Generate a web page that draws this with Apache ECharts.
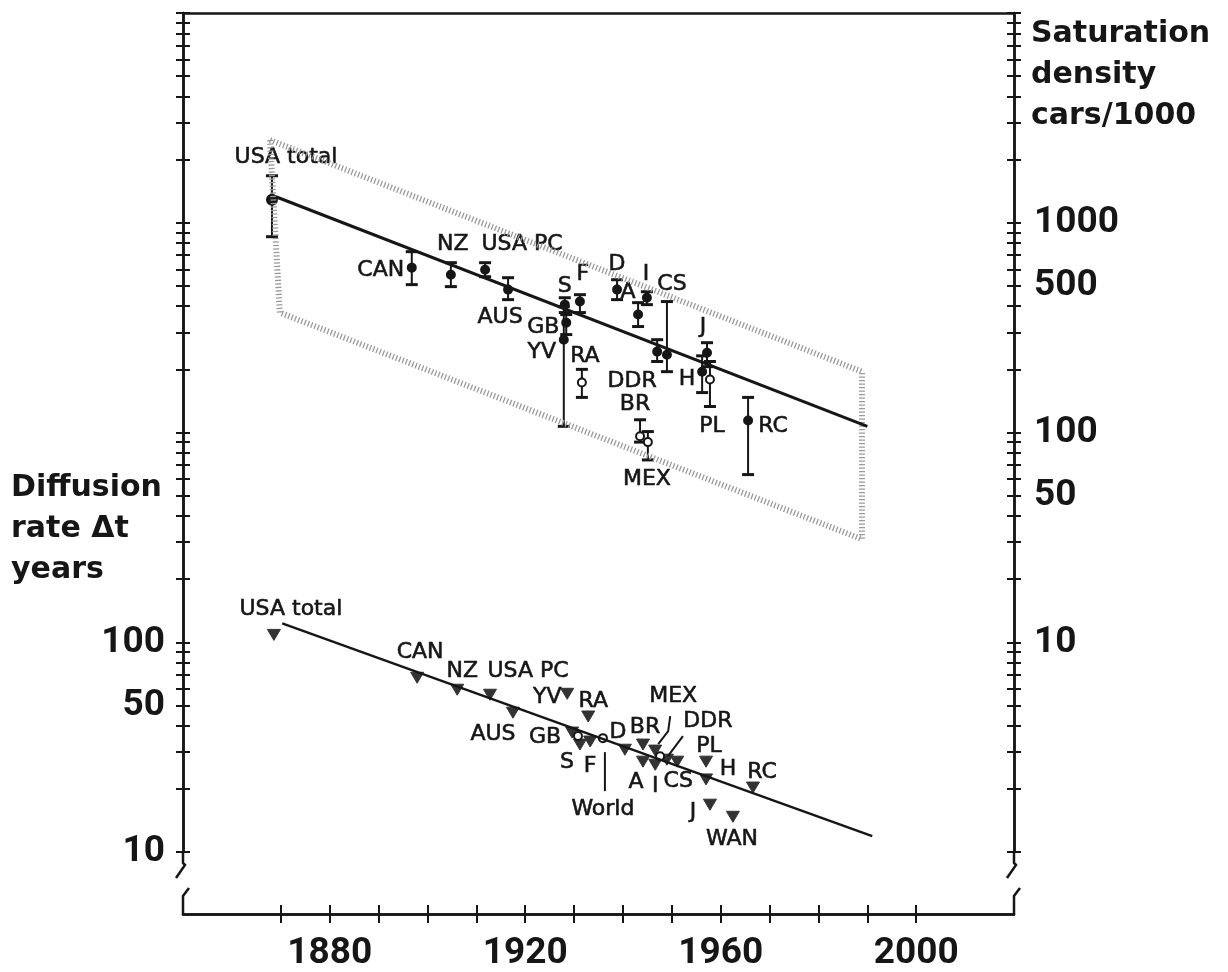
<!DOCTYPE html>
<html>
<head>
<meta charset="UTF-8">
<title>Saturation density and diffusion rate of cars</title>
<style>
  html, body { margin: 0; padding: 0; background: #fff; }
  #chart { width: 1228px; height: 972px; }
</style>
</head>
<body>
<div id="chart"></div>
<script src="https://cdn.jsdelivr.net/npm/echarts@6/dist/echarts.min.js"></script>
<script>
// upper part: saturation density, cars per 1000 (right axis)
const satNames = ['USA total', 'CAN', 'NZ', 'USA PC', 'AUS', 'S', 'GB', 'YV', 'F', 'RA', 'D', 'A', 'I',
                  'CS', 'DDR', 'BR', 'MEX', 'J', 'H', 'PL', 'RC'];
const satYear  = [1868.2, 1896.8, 1904.8, 1911.8, 1916.5, 1928.1, 1928.4, 1927.9, 1931.2, 1931.6, 1938.8, 1943.1, 1944.9,
                  1949.0, 1947.0, 1943.5, 1945.1, 1957.2, 1956.2, 1957.8, 1965.6];
const satValue = [1288, 611, 565, 597, 480, 407, 334, 277, 421, 173, 480, 365, 439,
                  235, 243, 96, 90, 240, 195, 179, 114];
const satHigh  = [1675, 728, 645, 645, 547, 439, 365, 398, 454, 200, 535, 416, 469,
                  421, 277, 115, 101, 268, 232, 218, 147];
const satLow   = [858, 507, 496, 553, 430, 373, 293, 107, 373, 147, 430, 320, 407,
                  195, 218, 90, 74, 206, 155, 133, 63];
const satOpen  = ['RA', 'BR', 'MEX', 'PL'];
const satFitYear  = [1869, 1990];
const satFitValue = [1330, 107];
const bandYear  = [1867.8, 1988.9, 1988.9, 1869.8, 1867.8];
const bandValue = [2480, 195, 31, 373, 2480];

// lower part: diffusion rate, delta t in years (left axis)
const dtNames = ['USA total', 'CAN', 'NZ', 'USA PC', 'AUS', 'YV', 'GB', 'S', 'F', 'RA', 'D', 'BR', 'A',
                 'MEX', 'I', 'DDR', 'CS', 'PL', 'H', 'J', 'WAN', 'RC'];
const dtYear  = [1868.6, 1897.9, 1906.1, 1912.8, 1917.5, 1928.6, 1929.6, 1931.2, 1933.3, 1932.9, 1940.4, 1944.1, 1944.1,
                 1946.6, 1946.6, 1949.0, 1951.1, 1957.0, 1957.0, 1957.8, 1962.5, 1966.6];
const dtValue = [109, 68.1, 59.7, 56.5, 46.4, 57.1, 37.3, 32.7, 33.8, 44.5, 30.9, 32.7, 27.1,
                 30.6, 26.2, 27.7, 27.1, 27.1, 22.3, 16.9, 14.8, 20.4];
const dtOpenNames = ['', 'World', ''];
const dtOpenYear  = [1930.8, 1935.9, 1947.6];
const dtOpenValue = [35.7, 34.9, 28.6];
const dtFitYear  = [1870.3, 1991.0];
const dtFitValue = [123, 11.9];

// axes
const yearTicks  = [1870, 1880, 1890, 1900, 1910, 1920, 1930, 1940, 1950, 1960, 1970, 1980, 1990, 2000];
const yearLabels = [1880, 1920, 1960, 2000];
const satLabels  = [10, 50, 100, 500, 1000];
const dtLabels   = [10, 50, 100];

function logTicks(lo, hi) {
  const t = [];
  for (let d = lo; d < hi; d *= 10) {
    for (let k = 1; k < 10; k++) t.push(k * d);
  }
  t.push(hi);
  return t;
}

const INK = '#161616';
const LABEL_FONT = '22px "DejaVu Sans", sans-serif';

// label placement (pixel offsets from the mark)
const satLabelOffset = {
  'USA total': [14, -42], CAN: [-31, 3], NZ: [2, -30], 'USA PC': [37, -25], AUS: [-8, 28],
  S: [0, -18], F: [3, -27], GB: [-23, 5], YV: [-22, 13], RA: [3, -26], D: [0, -25],
  A: [-10, -22], I: [-1, -23], CS: [5, -70], DDR: [-25, 30], BR: [-5, -32], MEX: [-1, 37],
  J: [-4, -25], H: [-15, 8], PL: [2, 47], RC: [25, 6]
};
const dtLabelOffset = {
  'USA total': [17, -25], CAN: [3, -25], NZ: [5, -18], 'USA PC': [38, -23], YV: [-20, 4],
  RA: [5, -15], AUS: [-20, 22], GB: [-27, 5], S: [-13, 18], F: [0, 25], D: [-7, -17],
  BR: [2, -17], A: [-7, 21], MEX: [18, -54], I: [0, 22], DDR: [41, -38], CS: [1, 20],
  PL: [3, -15], H: [22, -10], J: [-17, 8], WAN: [-1, 23], RC: [9, -15], World: [0, 71]
};
const dtLeader = {
  MEX: [[15, -34], [13, -19], [3, -6]],
  DDR: [[16, -23], [1, -3]],
  World: [[2, 14], [2, 53]]
};

function textEl(x, y, text) {
  return {
    type: 'text', x: x, y: y,
    style: { text: text, font: LABEL_FONT, fill: INK, stroke: INK, lineWidth: 0.6,
             align: 'center', verticalAlign: 'middle' }
  };
}

function renderSat(params, api) {
  const name = satNames[params.dataIndex];
  const p = api.coord([api.value(0), api.value(1)]);
  const hi = api.coord([api.value(0), api.value(2)]);
  const lo = api.coord([api.value(0), api.value(3)]);
  const off = satLabelOffset[name] || [0, -20];
  const open = satOpen.indexOf(name) >= 0;
  const line = { stroke: INK, lineWidth: 2 };
  const cap = { stroke: INK, lineWidth: 3 };
  return {
    type: 'group',
    children: [
      { type: 'line', shape: { x1: p[0], y1: hi[1], x2: p[0], y2: lo[1] }, style: line },
      { type: 'line', shape: { x1: p[0] - 6, y1: hi[1], x2: p[0] + 6, y2: hi[1] }, style: cap },
      { type: 'line', shape: { x1: p[0] - 6, y1: lo[1], x2: p[0] + 6, y2: lo[1] }, style: cap },
      { type: 'circle', shape: { cx: p[0], cy: p[1], r: params.dataIndex === 0 ? 5 : 4 },
        style: { fill: open ? '#fff' : INK, stroke: INK, lineWidth: 2 } },
      textEl(p[0] + off[0], p[1] + off[1], name)
    ]
  };
}

function renderDt(params, api) {
  const name = dtNames[params.dataIndex];
  const p = api.coord([api.value(0), api.value(1)]);
  const off = dtLabelOffset[name] || [0, -20];
  const kids = [
    { type: 'polygon',
      shape: { points: [[p[0] - 6.5, p[1] - 5], [p[0] + 6.5, p[1] - 5], [p[0], p[1] + 6]] },
      style: { fill: '#333', stroke: '#333', lineWidth: 1 } },
    textEl(p[0] + off[0], p[1] + off[1], name)
  ];
  if (dtLeader[name]) {
    kids.push({ type: 'polyline',
      shape: { points: dtLeader[name].map(d => [p[0] + d[0], p[1] + d[1]]) },
      style: { stroke: INK, lineWidth: 2, fill: null } });
  }
  return { type: 'group', children: kids };
}

function renderDtOpen(params, api) {
  const name = dtOpenNames[params.dataIndex];
  const p = api.coord([api.value(0), api.value(1)]);
  const kids = [
    { type: 'circle', shape: { cx: p[0], cy: p[1], r: 4 },
      style: { fill: '#fff', stroke: INK, lineWidth: 2 } }
  ];
  if (name) {
    const off = dtLabelOffset[name];
    kids.push(textEl(p[0] + off[0], p[1] + off[1], name));
    kids.push({ type: 'polyline',
      shape: { points: dtLeader[name].map(d => [p[0] + d[0], p[1] + d[1]]) },
      style: { stroke: INK, lineWidth: 2, fill: null } });
  }
  return { type: 'group', children: kids };
}

const numLabel = { color: INK, fontFamily: 'Roboto', fontWeight: 'bold', fontSize: 37,
                   formatter: v => String(v) };

function xAxisBase(extra) {
  return Object.assign({
    type: 'value', min: 1850, max: 2020, position: 'bottom', offset: 62,
    axisLine: { show: true, lineStyle: { color: INK, width: 2.5 } },
    axisTick: { show: true, customValues: yearTicks, length: 9, lineStyle: { color: INK, width: 2 } },
    axisLabel: { show: false },
    splitLine: { show: false }
  }, extra);
}

function yAxisBase(min, max, pos, extra) {
  return Object.assign({
    type: 'log', logBase: 10, min: min, max: max, position: pos,
    axisLine: { show: true, lineStyle: { color: INK, width: 2.5 } },
    axisTick: { show: true, customValues: logTicks(min, max), length: 7, lineStyle: { color: INK, width: 2 } },
    axisLabel: { show: false },
    splitLine: { show: false },
    minorTick: { show: false }
  }, extra);
}

const chart = echarts.init(document.getElementById('chart'));

chart.setOption({
  animation: false,
  backgroundColor: '#fff',
  grid: { left: 183, right: 214, top: 13, bottom: 119, containLabel: false },
  title: [
    { text: 'Saturation\ndensity\ncars/1000', left: 1031, top: 14, padding: 0,
      textStyle: { fontFamily: 'DejaVu Sans', fontWeight: 'bold', fontSize: 30, lineHeight: 41, color: INK } },
    { text: 'Diffusion\nrate Δt\nyears', left: 11, top: 468, padding: 0,
      textStyle: { fontFamily: 'DejaVu Sans', fontWeight: 'bold', fontSize: 30, lineHeight: 41, color: INK } }
  ],
  xAxis: [
    xAxisBase({ axisLabel: Object.assign({ show: true, customValues: yearLabels, margin: 21 }, numLabel) }),
    xAxisBase({ axisTick: { show: true, inside: true, customValues: yearTicks, length: 9, lineStyle: { color: INK, width: 2 } } }),
    { type: 'value', min: 1850, max: 2020, position: 'top',
      axisLine: { show: true, lineStyle: { color: INK, width: 2.5 } },
      axisTick: { show: false }, axisLabel: { show: false }, splitLine: { show: false } }
  ],
  yAxis: [
    yAxisBase(10, 100000, 'left', {
      axisLabel: Object.assign({ show: true, customValues: dtLabels, margin: 18 }, numLabel) }),
    yAxisBase(10, 100000, 'left', {
      axisTick: { show: true, inside: true, customValues: logTicks(10, 100000), length: 7, lineStyle: { color: INK, width: 2 } } }),
    yAxisBase(1, 10000, 'right', {
      axisLabel: Object.assign({ show: true, customValues: satLabels, margin: 20 }, numLabel) }),
    yAxisBase(1, 10000, 'right', {
      axisTick: { show: true, inside: true, customValues: logTicks(1, 10000), length: 7, lineStyle: { color: INK, width: 2 } } })
  ],
  series: [
    {
      name: 'band', type: 'line', xAxisIndex: 0, yAxisIndex: 2,
      data: bandYear.map((y, i) => [y, bandValue[i]]),
      symbol: 'none', silent: true,
      lineStyle: { color: '#9a9a9a', width: 6, type: [1.3, 2.2] }
    },
    {
      name: 'saturation fit', type: 'line', xAxisIndex: 0, yAxisIndex: 2,
      data: satFitYear.map((y, i) => [y, satFitValue[i]]),
      symbol: 'none', lineStyle: { color: INK, width: 3 }
    },
    {
      name: 'saturation', type: 'custom', xAxisIndex: 0, yAxisIndex: 2,
      data: satYear.map((y, i) => [y, satValue[i], satHigh[i], satLow[i]]),
      encode: { x: 0, y: 1 },
      renderItem: renderSat
    },
    {
      name: 'diffusion fit', type: 'line', xAxisIndex: 0, yAxisIndex: 0,
      data: dtFitYear.map((y, i) => [y, dtFitValue[i]]),
      symbol: 'none', lineStyle: { color: INK, width: 2.5 }
    },
    {
      name: 'diffusion', type: 'custom', xAxisIndex: 0, yAxisIndex: 0,
      data: dtYear.map((y, i) => [y, dtValue[i]]),
      encode: { x: 0, y: 1 },
      renderItem: renderDt
    },
    {
      name: 'diffusion open', type: 'custom', xAxisIndex: 0, yAxisIndex: 0,
      data: dtOpenYear.map((y, i) => [y, dtOpenValue[i]]),
      encode: { x: 0, y: 1 },
      renderItem: renderDtOpen
    }
  ]
});

// axis breaks between the y axes and the x axis
function breakMarks() {
  const bl = chart.convertToPixel({ xAxisIndex: 0, yAxisIndex: 2 }, [1850, 1]);
  const br = chart.convertToPixel({ xAxisIndex: 0, yAxisIndex: 2 }, [2020, 1]);
  const yb = bl[1] + 62;
  const st = { stroke: INK, lineWidth: 2.5, fill: null };
  const els = [];
  [bl[0], br[0]].forEach(x => {
    els.push({ type: 'polyline', silent: true,
      shape: { points: [[x, bl[1]], [x, bl[1] + 11], [x + 2, bl[1] + 13], [x - 7, bl[1] + 26]] }, style: st });
    els.push({ type: 'polyline', silent: true,
      shape: { points: [[x + 6, bl[1] + 36], [x, bl[1] + 44], [x, yb]] }, style: st });
  });
  chart.setOption({ graphic: els });
}
breakMarks();
</script>
</body>
</html>
